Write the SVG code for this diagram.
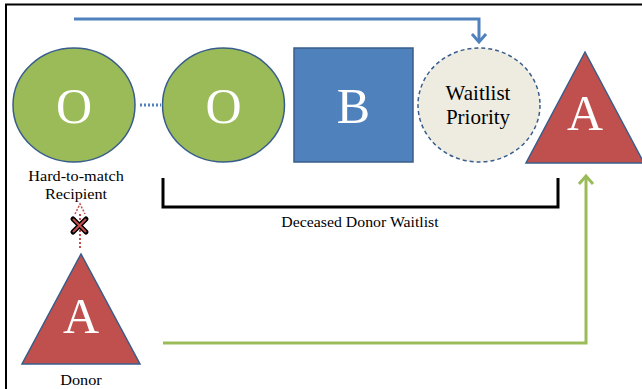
<svg xmlns="http://www.w3.org/2000/svg" width="642" height="389" viewBox="0 0 642 389">
<defs>
<style>
text{font-family:'Liberation Serif','Times New Roman',serif}
.big{font-size:50px;fill:#fff;text-anchor:middle}
.lbl{font-size:14px;fill:#000;text-anchor:middle}
.wp{font-size:21px;fill:#000;text-anchor:middle}
.node{stroke:#385D8A;stroke-width:1.5}
</style>
</defs>
<rect width="642" height="389" fill="#fff"/>
<g id="frame" fill="none" stroke="#000">
<line x1="5" y1="4.5" x2="642" y2="4.5" stroke-width="2"/>
<line x1="6" y1="4" x2="6" y2="389" stroke-width="2"/>
</g>
<g id="connectors" fill="none">
<polyline points="74,19 479,19 479,42" stroke="#4F81BD" stroke-width="3"/>
<polyline points="472,34 479,42 486,34" stroke="#4F81BD" stroke-width="3"/>
<polyline points="163,343 586,343 586,176" stroke="#9BBB59" stroke-width="3"/>
<polyline points="579,184 586,176 593,184" stroke="#9BBB59" stroke-width="3"/>
<line x1="140" y1="105" x2="161" y2="105" stroke="#4F81BD" stroke-width="3" stroke-dasharray="2,2"/>
<line x1="80" y1="248" x2="80" y2="214" stroke="#C0504D" stroke-width="2" stroke-dasharray="2,2"/>
<polyline points="75,214 80,204 85,214" stroke="#C0504D" stroke-width="1.5" stroke-dasharray="2,1.5"/>
<polyline points="163,178 163,207 558,207 558,178" stroke="#000" stroke-width="3"/>
</g>
<g id="x-mark">
<path d="M73,219 L86,232 M86,219 L73,232" stroke="#000" stroke-width="5" stroke-linecap="round"/>
<path d="M73.5,219.5 L85.5,231.5 M85.5,219.5 L73.5,231.5" stroke="#C0504D" stroke-width="2" stroke-linecap="round"/>
</g>
<g id="recipient">
<ellipse cx="74" cy="105" rx="61" ry="57" fill="#9BBB59" class="node"/>
<text x="74" y="123" class="big">O</text>
<text transform="translate(76,181) scale(1.16,1)" class="lbl">Hard-to-match</text>
<text transform="translate(76,199) scale(1.16,1)" class="lbl">Recipient</text>
</g>
<g id="o2">
<ellipse cx="223.5" cy="105" rx="61" ry="57" fill="#9BBB59" class="node"/>
<text x="223.5" y="123" class="big">O</text>
</g>
<g id="b">
<rect x="294" y="48" width="119" height="114" fill="#4F81BD" class="node"/>
<text x="353.5" y="123" class="big">B</text>
</g>
<g id="waitlist-priority">
<ellipse cx="479" cy="105" rx="61" ry="57" fill="#EEECE1" stroke="#385D8A" stroke-width="1.5" stroke-dasharray="4,3"/>
<text x="478" y="100" class="wp">Waitlist</text>
<text x="478" y="124" class="wp">Priority</text>
</g>
<g id="a-right">
<polygon points="585,52 526,163 644,163" fill="#C0504D" class="node"/>
<text x="585" y="130" class="big">A</text>
</g>
<g id="donor">
<polygon points="81,254 22,364 140,364" fill="#C0504D" class="node"/>
<text x="81" y="333" class="big">A</text>
<text transform="translate(81,385) scale(1.16,1)" class="lbl">Donor</text>
</g>
<g id="waitlist-label">
<text transform="translate(360,227) scale(1.13,1)" class="lbl">Deceased Donor Waitlist</text>
</g>
</svg>
